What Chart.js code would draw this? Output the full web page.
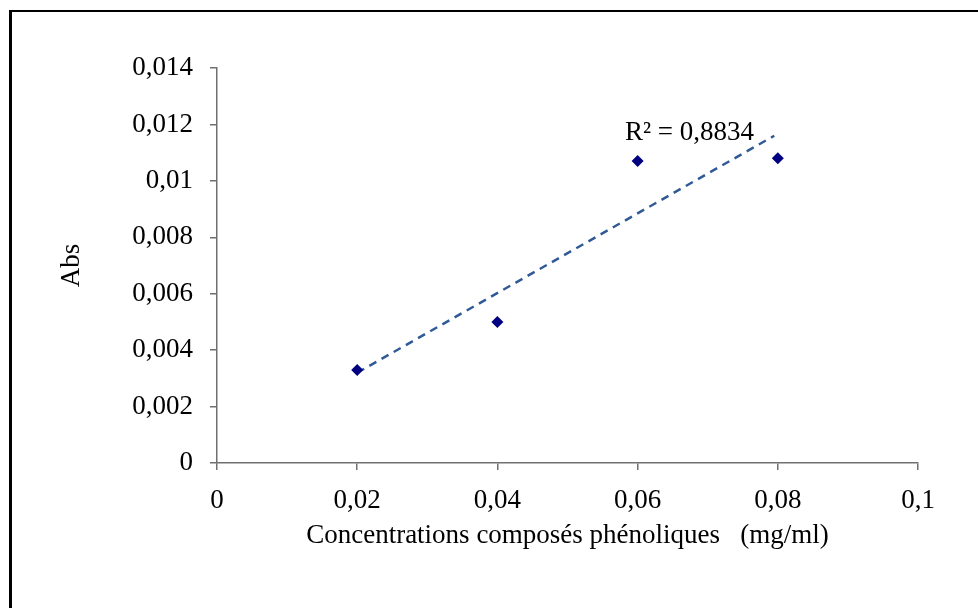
<!DOCTYPE html>
<html>
<head>
<meta charset="utf-8">
<script src="https://cdn.jsdelivr.net/npm/chart.js@4"></script>
<style>
  html, body { margin: 0; padding: 0; background: #fff; }
  #wrap { position: relative; width: 978px; height: 608px; }
  #frame { position: absolute; left: 9px; top: 10px; width: 969px; height: 598px;
           border-top: 2px solid #000; border-left: 3px solid #000; box-sizing: border-box; pointer-events: none; }
  canvas { position: absolute; left: 0; top: 0; }
</style>
</head>
<body>
<div id="wrap">
  <canvas id="c" width="978" height="608"></canvas>
  <div id="frame"></div>
</div>
<script>
// ---- data ----
const concentrations = [0.02, 0.04, 0.06, 0.08];          // mg/ml
const absorbances    = [0.0033, 0.0050, 0.0107, 0.0108];  // Abs
const trendX = [0.02, 0.0795];                             // trendline ends (read)
const trendY = [0.0032, 0.0116];
const r2Label = "R\u00B2 = 0,8834";
const r2Pos = { x: 0.0582, y: 0.0117 };
const xTitle = "Concentrations compos\u00E9s ph\u00E9noliques   (mg/ml)";
const yTitle = "Abs";

const FONT = "'Liberation Serif', 'Times New Roman', serif";
const FS = 27;
const fmt = v => (Math.round(v * 1000) / 1000).toString().replace('.', ',');

const r2Plugin = {
  id: 'r2',
  afterDatasetsDraw(chart) {
    const {ctx, scales} = chart;
    const px = scales.x.getPixelForValue(r2Pos.x);
    const py = scales.y.getPixelForValue(r2Pos.y);
    ctx.save();
    ctx.font = FS + "px " + FONT;
    ctx.fillStyle = '#000';
    ctx.textAlign = 'left';
    ctx.textBaseline = 'middle';
    ctx.fillText(r2Label, px, py);
    ctx.restore();
  }
};

new Chart(document.getElementById('c'), {
  type: 'scatter',
  data: {
    datasets: [
      {
        label: 'Abs',
        data: concentrations.map((x, i) => ({ x, y: absorbances[i] })),
        pointStyle: 'rectRot',
        pointRadius: 6,
        pointHoverRadius: 6,
        backgroundColor: '#000080',
        borderColor: '#000080',
        borderWidth: 0,
        order: 1
      },
      {
        label: 'trend',
        type: 'line',
        data: trendX.map((x, i) => ({ x, y: trendY[i] })),
        borderColor: '#2F5A96',
        borderWidth: 2.5,
        borderDash: [8, 6],
        pointRadius: 0,
        fill: false,
        order: 2
      }
    ]
  },
  options: {
    responsive: false,
    animation: false,
    events: [],
    layout: { padding: { top: 68, right: 60, left: 0, bottom: 0 } },
    plugins: { legend: { display: false }, tooltip: { enabled: false } },
    scales: {
      x: {
        type: 'linear',
        min: 0, max: 0.1,
        afterFit(s) { s.height = 145; },
        ticks: {
          stepSize: 0.02,
          color: '#000',
          padding: 15,
          font: { family: FONT, size: FS },
          callback: v => fmt(v)
        },
        grid: { drawOnChartArea: false, drawTicks: true, tickLength: 7, color: '#707070', lineWidth: 1.5 },
        border: { color: '#707070', width: 1.5 },
        title: {
          display: true, text: xTitle, color: '#000',
          font: { family: FONT, size: FS },
          padding: { top: 0, bottom: 56 }
        }
      },
      y: {
        type: 'linear',
        min: 0, max: 0.014,
        afterFit(s) { s.width = 217; },
        ticks: {
          stepSize: 0.002,
          color: '#000',
          padding: 17,
          font: { family: FONT, size: FS },
          callback: v => fmt(v)
        },
        grid: { drawOnChartArea: false, drawTicks: true, tickLength: 7, color: '#707070', lineWidth: 1.5 },
        border: { color: '#707070', width: 1.5 },
        title: {
          display: true, text: yTitle, color: '#000',
          font: { family: FONT, size: FS },
          padding: { top: 56, bottom: 0 }
        }
      }
    }
  },
  plugins: [r2Plugin]
});
</script>
</body>
</html>
